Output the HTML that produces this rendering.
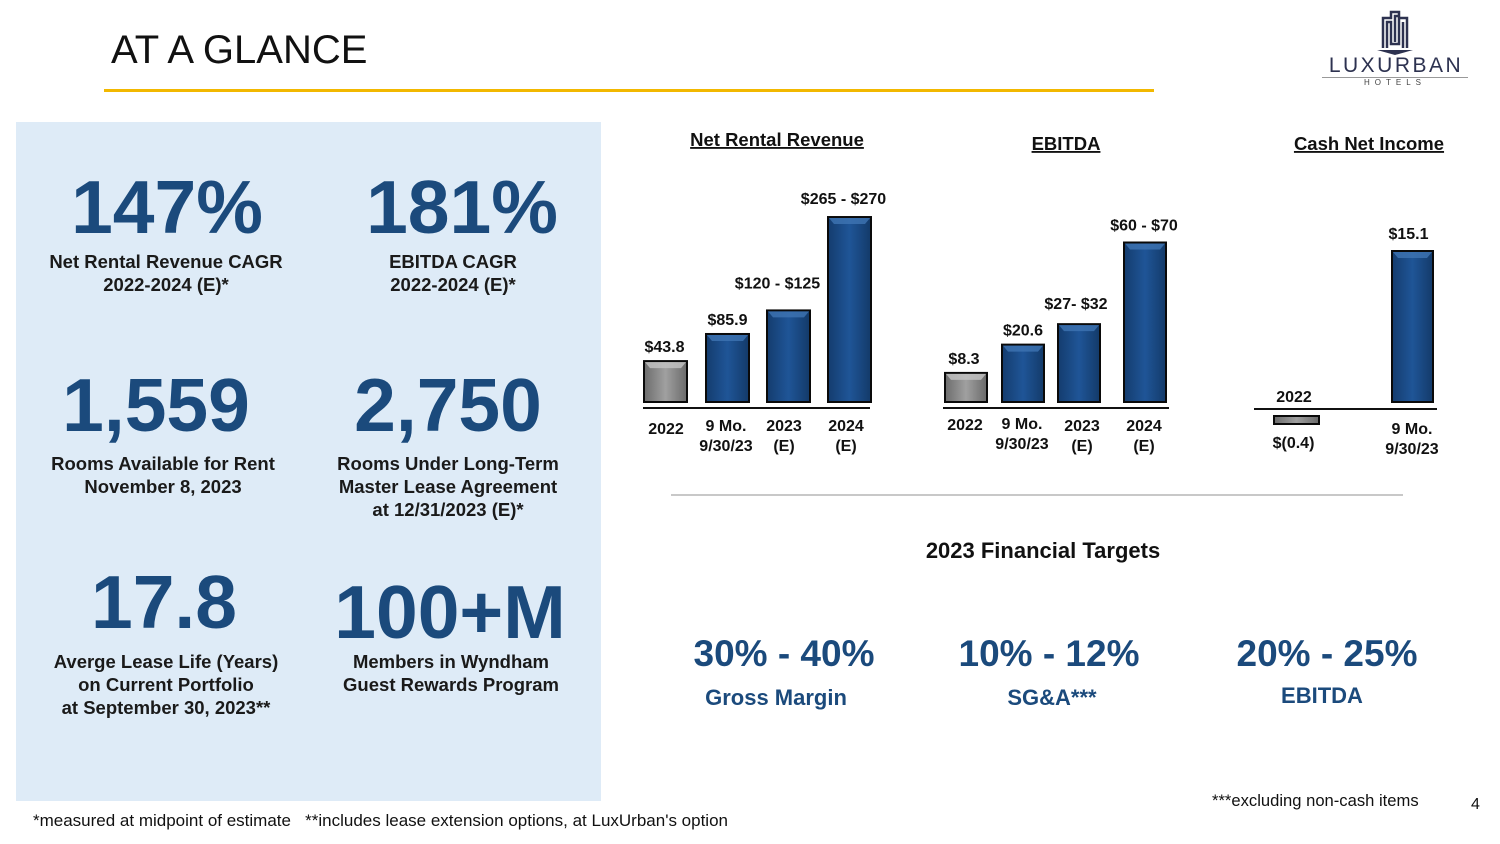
<!DOCTYPE html>
<html><head><meta charset="utf-8"><style>
body{margin:0;width:1500px;height:844px;background:#fff;position:relative;overflow:hidden;font-family:"Liberation Sans",Arial,sans-serif}
.a{position:absolute}
.big{position:absolute;font-weight:bold;color:#1b4a7c;font-size:75px;text-align:center;width:300px;line-height:1}
.lbl{position:absolute;font-weight:bold;color:#1a1a1a;font-size:18.5px;text-align:center;width:320px;line-height:23px}
.pct{position:absolute;font-weight:bold;color:#1b4a7c;font-size:37px;text-align:center;width:300px}
.sub{position:absolute;font-weight:bold;color:#1b4a7c;font-size:22px;text-align:center;width:300px}
</style></head><body>
<div class="a" style="left:111px;top:28px;font-size:40px;color:#111">AT A GLANCE</div>
<div class="a" style="left:104px;top:89px;width:1050px;height:3px;background:#f2b800"></div>
<div class="a" style="left:1320px;top:8px;width:150px;height:85px;text-align:center">
<svg width="40" height="48" viewBox="0 0 40 48" style="display:block;margin:0 auto"><path d="M8 40V10h8V4h8v6h8v30M12 40V14h4v22h8V8h-4v26M28 40V14" fill="none" stroke="#2d3250" stroke-width="2.5"/><path d="M2 42h36l-18 5z" fill="#2d3250"/></svg>
<div style="font-size:21px;color:#2d3250;letter-spacing:2.5px;line-height:20px;margin-left:2px">LUXURBAN</div>
<div style="border-top:1px solid #999;width:146px;margin:1px auto 0;font-size:8px;letter-spacing:5px;color:#444">HOTELS</div></div>

<div class="a" style="left:16px;top:122px;width:585px;height:679px;background:#deebf7"></div>
<div class="big" style="left:17px;top:170px">147%</div>
<div class="lbl" style="left:6px;top:250px">Net Rental Revenue CAGR<br>2022-2024 (E)*</div>
<div class="big" style="left:312px;top:170px">181%</div>
<div class="lbl" style="left:293px;top:250px">EBITDA CAGR<br>2022-2024 (E)*</div>
<div class="big" style="left:6px;top:368px">1,559</div>
<div class="lbl" style="left:3px;top:452px">Rooms Available for Rent<br>November 8, 2023</div>
<div class="big" style="left:298px;top:368px">2,750</div>
<div class="lbl" style="left:288px;top:452px">Rooms Under Long-Term<br>Master Lease Agreement<br>at 12/31/2023 (E)*</div>
<div class="big" style="left:14px;top:565px">17.8</div>
<div class="lbl" style="left:6px;top:650px">Averge Lease Life (Years)<br>on Current Portfolio<br>at September 30, 2023**</div>
<div class="big" style="left:300px;top:575px">100+M</div>
<div class="lbl" style="left:291px;top:650px">Members in Wyndham<br>Guest Rewards Program</div>

<svg class="a" id="ch" style="left:0;top:0" width="1500" height="500"></svg>

<div class="a" style="left:671px;top:494px;width:732px;height:2px;background:#c8c8c8"></div>
<div class="a" style="left:0;width:2086px;top:538px;text-align:center;font-weight:bold;font-size:22px;color:#111">2023 Financial Targets</div>
<div class="pct" style="left:634px;top:633px">30% - 40%</div>
<div class="sub" style="left:626px;top:685px">Gross Margin</div>
<div class="pct" style="left:899px;top:633px">10% - 12%</div>
<div class="sub" style="left:902px;top:685px">SG&amp;A***</div>
<div class="pct" style="left:1177px;top:633px">20% - 25%</div>
<div class="sub" style="left:1172px;top:683px">EBITDA</div>
<div class="a" style="left:1212px;top:791px;font-size:16.6px;color:#111">***excluding non-cash items</div>
<div class="a" style="left:1471px;top:796px;font-size:16px;color:#111">4</div>
<div class="a" style="left:33px;top:811px;font-size:17px;color:#111">*measured at midpoint of estimate&nbsp;&nbsp; **includes lease extension options, at LuxUrban's option</div>

<script>
const revCats=["2022","9 Mo.|9/30/23","2023|(E)","2024|(E)"];
const revVals=[43.8,85.9,122.5,267.5];
const revLabels=["$43.8","$85.9","$120 - $125","$265 - $270"];
const ebCats=["2022","9 Mo.|9/30/23","2023|(E)","2024|(E)"];
const ebVals=[8.3,20.6,29.5,65];
const ebLabels=["$8.3","$20.6","$27- $32","$60 - $70"];
const niCats=["2022","9 Mo.|9/30/23"];
const niVals=[-0.4,15.1];
const niLabels=["$(0.4)","$15.1"];
const NS="http://www.w3.org/2000/svg";
const svg=document.getElementById('ch');
function mk(t,a,p){const e=document.createElementNS(NS,t);for(const k in a)e.setAttribute(k,a[k]);(p||svg).appendChild(e);return e;}
function txt(x,y,s,size,name,anchor){const t=mk('text',{x:x,y:y,'font-size':size||16,'font-weight':'bold','text-anchor':anchor||'middle',fill:'#111','font-family':'Liberation Sans, Arial, sans-serif'});t.textContent=s;return t;}
const defs=mk('defs',{});
defs.innerHTML='<linearGradient id="gb" x1="0" x2="1"><stop offset="0" stop-color="#143c6e"/><stop offset="0.5" stop-color="#1f5597"/><stop offset="1" stop-color="#133a69"/></linearGradient><linearGradient id="gg" x1="0" x2="1"><stop offset="0" stop-color="#6c6c6c"/><stop offset="0.5" stop-color="#a0a0a0"/><stop offset="1" stop-color="#6a6a6a"/></linearGradient>';
function bar(x,y,w,h,gray,name){const r=mk('rect',{x:x,y:y,width:w,height:h,fill:gray?'url(#gg)':'url(#gb)',stroke:'#0a0a0a','stroke-width':2});
if(h>10)mk('polygon',{points:`${x+1},${y+1} ${x+w-1},${y+1} ${x+w-6},${y+7} ${x+6},${y+7}`,fill:gray?'#c4c4c4':'#3f74b3',opacity:0.8});}
function cat(x,y,s,name){const p=s.split('|');p.forEach((l,i)=>txt(x,y+i*20,l,16,name));}
function chart(title,tx,ty,cats,vals,labels,xs,w,hfn,base,axis,gray0,prefix,gap,shift){
 txt(tx,ty,title,18.5,prefix+'-title').setAttribute('text-decoration','underline');
 mk('line',{x1:axis[0],x2:axis[1],y1:base+6,y2:base+6,stroke:'#111','stroke-width':2});
 vals.forEach((v,i)=>{bar(xs[i],base-hfn(v),w,hfn(v),gray0&&i==0,prefix+'-bar-'+i);});
 vals.forEach((v,i)=>{txt(xs[i]+w/2+shift[i][0],base-hfn(v)-gap-shift[i][1],labels[i],16,prefix+'-value-'+i);});
}
// revenue
const rY=v=>12.7+0.644*v;
chart('Net Rental Revenue',777,146,revCats,revVals,revLabels,[644,706,767,828],43,rY,402,[643,870],true,'revenue',9,[[-1,0],[0,0],[-11,13],[-6,4]]);
[[666,434],[726,431],[784,431],[846,431]].forEach((p,i)=>cat(p[0],p[1],revCats[i],'revenue-category-'+i));
// ebitda
const eY=v=>10+2.3*v;
chart('EBITDA',1066,150,ebCats,ebVals,ebLabels,[945,1002,1058,1124],42,eY,402,[943,1169],true,'ebitda',9,[[-2,0],[0,0],[-3,6],[-1,3]]);
[[965,430],[1022,429],[1082,431],[1144,431]].forEach((p,i)=>cat(p[0],p[1],ebCats[i],'ebitda-category-'+i));
// net income
const nY=v=>10*v;
txt(1369,150,'Cash Net Income',18.5,'net-income-title').setAttribute('text-decoration','underline');
mk('line',{x1:1254,x2:1437,y1:409,y2:409,stroke:'#111','stroke-width':2});
const nx=[1274,1392],nw=[45,41];
niVals.forEach((v,i)=>{
 if(v>=0){const h=nY(v);bar(nx[i],402-h,nw[i],h,false,'net-income-bar-'+i);txt(nx[i]+nw[i]/2-4,402-h-12,niLabels[i],16,'net-income-value-'+i);}
 else{const h=Math.min(8,Math.max(4,-nY(v)*2));bar(nx[i],416,nw[i],h,true,'net-income-bar-'+i);txt(nx[i]+nw[i]/2-3,448,niLabels[i],16,'net-income-value-'+i);}
});
txt(1294,402,'2022',16,'net-income-category-0');
cat(1412,434,niCats[1],'net-income-category-1');
</script>
</body></html>
